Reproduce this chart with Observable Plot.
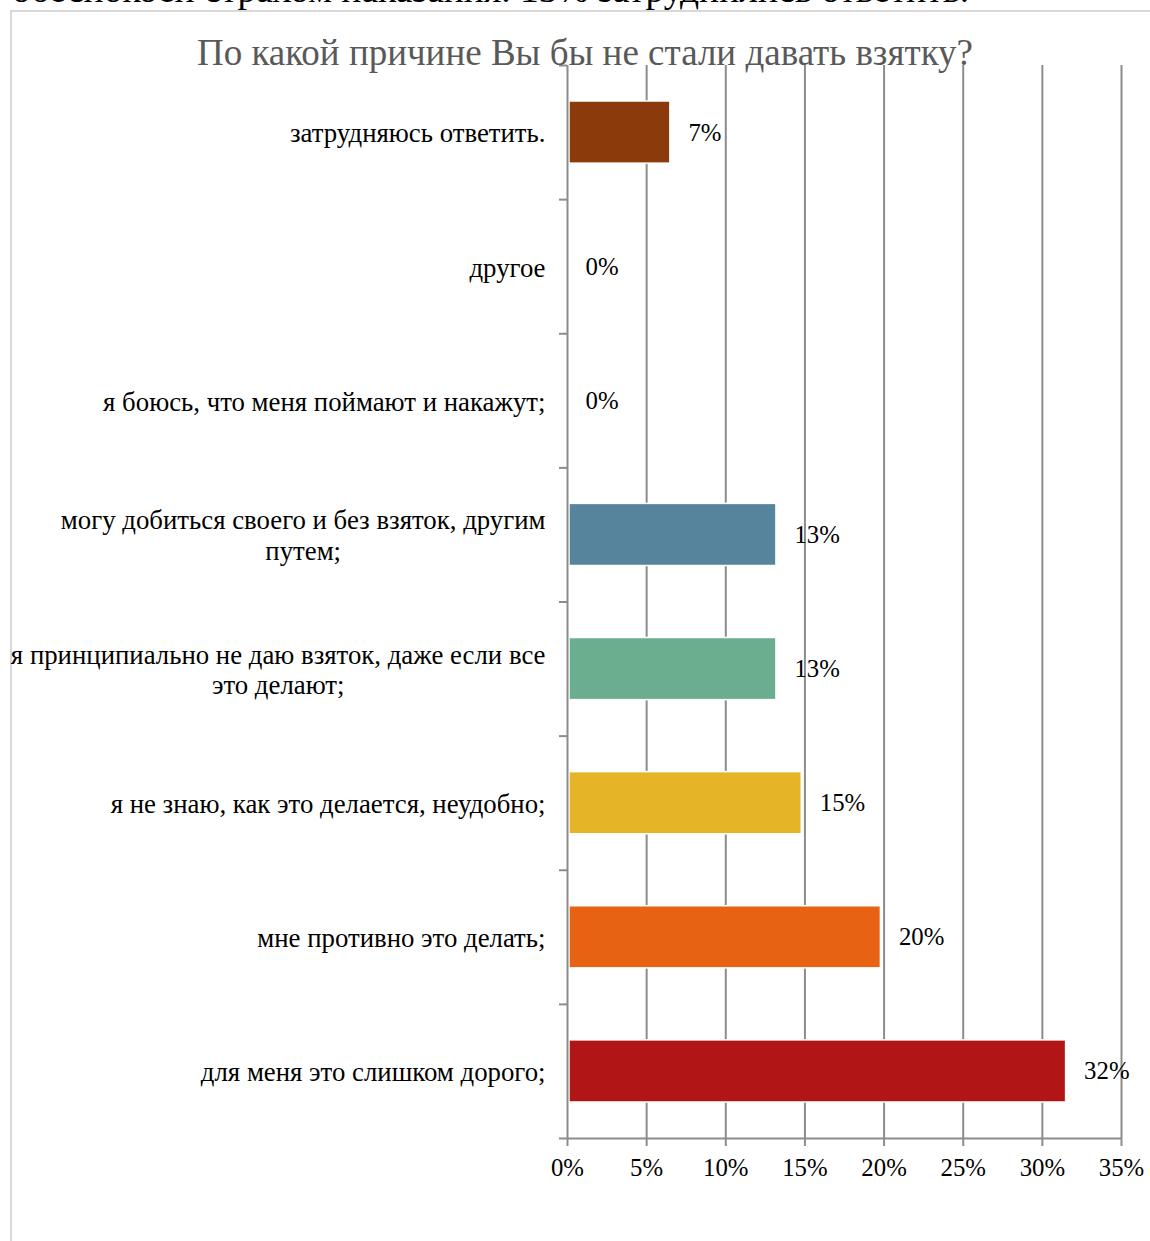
<!DOCTYPE html>
<html>
<head>
<meta charset="utf-8">
<script src="https://cdn.jsdelivr.net/npm/d3@7"></script>
<script src="https://cdn.jsdelivr.net/npm/@observablehq/plot@0.6"></script>
<style>
  html, body { margin: 0; padding: 0; background: #fff; }
  #wrap { position: relative; width: 1150px; height: 1241px; overflow: hidden; font-family: "Liberation Serif", "Times New Roman", serif; }
  #above { position: absolute; left: 12px; top: -30px; font-size: 37.5px; line-height: 40px; color: #000; white-space: nowrap; }
  #frame { position: absolute; left: 10px; top: 10px; right: -4px; bottom: -4px; border-top: 2px solid #d9d9d9; border-left: 2px solid #d9d9d9; }
  #chart { position: absolute; left: 0; top: 0; }
  #title { position: absolute; left: 0; width: 1170px; top: 33px; text-align: center; font-size: 37px; line-height: 40px; color: #595959; }
</style>
</head>
<body>
<div id="wrap">
  <div id="above">обеспокоен страхом наказания. 13% затруднились ответить.</div>
  <div id="frame"></div>
  <div id="chart"></div>
  <div id="title">По какой причине Вы бы не стали давать взятку?</div>
</div>
<script>
const categories = [
  "затрудняюсь ответить.",
  "другое",
  "я боюсь, что меня поймают и накажут;",
  "могу добиться своего и без взяток, другим\nпутем;",
  "я принципиально не даю взяток, даже если все\nэто делают;",
  "я не знаю, как это делается, неудобно;",
  "мне противно это делать;",
  "для меня это слишком дорого;"
];
const values = [6.5, 0, 0, 13.2, 13.2, 14.8, 19.8, 31.5];
const colors = ["#8b3a0b", "#8b3a0b", "#8b3a0b", "#55849c", "#6aad8f", "#e5b527", "#e86213", "#b11516"];
const xTicks = [0, 5, 10, 15, 20, 25, 30, 35];

const data = categories.map((c, i) => ({cat: c, i, value: values[i], color: colors[i]}));
const FONT = "Liberation Serif";
const LFS = 26.8;   // category label size
const FS = 24.8;    // value and tick label size

const ctx = document.createElement("canvas").getContext("2d");
ctx.font = `${LFS}px "${FONT}"`;
const labelMarks = data.map(d => {
  const w = Math.max(...d.cat.split("\n").map(l => ctx.measureText(l).width));
  return Plot.text([d], {
    y: r => r.i + 0.5, text: "cat", frameAnchor: "left", textAnchor: "middle",
    dx: -22 - w / 2, lineHeight: 1.15, fontSize: LFS, fill: "#000"
  });
});

const gridColor = "#8c8c8c";
const chart = Plot.plot({
  width: 1150,
  height: 1241,
  marginTop: 65,
  marginBottom: 103,
  marginLeft: 567,
  marginRight: 29,
  style: {fontFamily: FONT, fontSize: FS + "px", background: "transparent", overflow: "visible"},
  x: {domain: [0, 35], ticks: xTicks, tickFormat: d => d + "%", label: null},
  y: {domain: [0, categories.length], reverse: true, label: null},
  marks: [
    Plot.ruleX(xTicks.slice(1), {stroke: gridColor, strokeWidth: 2}),
    Plot.rectX(data.filter(d => d.value > 0), {
      y1: "i", y2: d => d.i + 1, x1: 0, x2: "value", fill: "color",
      insetTop: 36, insetBottom: 36, insetLeft: 2, stroke: "#fff", strokeWidth: 1.5
    }),
    Plot.ruleX([0], {stroke: gridColor, strokeWidth: 2}),
    Plot.ruleY([categories.length], {stroke: gridColor, strokeWidth: 2}),
    Plot.axisX({ticks: xTicks, tickFormat: d => d + "%", tickSize: 8, tickPadding: 12, stroke: gridColor, strokeWidth: 2, fontSize: FS, fill: "#000", color: "#000", label: null}),
    Plot.axisY({ticks: d3.range(categories.length + 1), tickFormat: () => "", tickSize: 8, stroke: gridColor, strokeWidth: 2, label: null}),
    Plot.text(data, {
      x: "value", y: d => d.i + 0.5, text: d => Math.round(d.value) + "%",
      textAnchor: "start", dx: 18, fontSize: FS, fill: "#000"
    }),
    ...labelMarks
  ]
});
document.getElementById("chart").appendChild(chart);
</script>
</body>
</html>
